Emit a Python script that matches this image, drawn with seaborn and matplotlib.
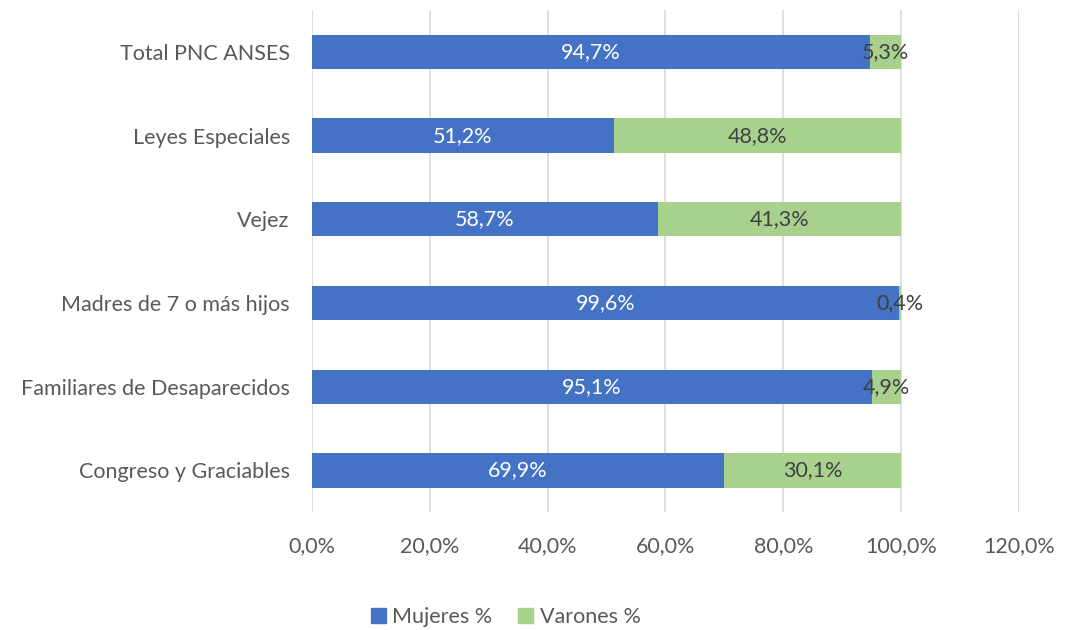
import pandas as pd
import seaborn as sns
import matplotlib.pyplot as plt
from matplotlib.patches import Patch

categorias = [
    "Total PNC ANSES",
    "Leyes Especiales",
    "Vejez",
    "Madres de 7 o más hijos",
    "Familiares de Desaparecidos",
    "Congreso y Graciables",
]
mujeres = [94.7, 51.2, 58.7, 99.6, 95.1, 69.9]
varones = [5.3, 48.8, 41.3, 0.4, 4.9, 30.1]

azul = "#4472C4"
verde = "#A9D18E"
gris = "#595959"
fs = 15.5

sns.set_style("white")
plt.rcParams["font.family"] = ["Lato", "DejaVu Sans"]

df = pd.DataFrame({"categoria": categorias, "mujeres": mujeres, "varones": varones})
df["total"] = df["mujeres"] + df["varones"]

fig = plt.figure(figsize=(10.67, 6.3), dpi=100)
ax = fig.add_axes([0.2924, 0.187, 0.6626, 0.797])

# barra completa en verde, luego mujeres encima en azul
sns.barplot(data=df, x="total", y="categoria", color=verde, width=0.41,
            saturation=1, linewidth=0, ax=ax, zorder=3)
sns.barplot(data=df, x="mujeres", y="categoria", color=azul, width=0.41,
            saturation=1, linewidth=0, ax=ax, zorder=3)


def fmt(v):
    return f"{v:.1f}%".replace(".", ",")


for i, row in df.iterrows():
    ax.text(row["mujeres"] / 2, i, fmt(row["mujeres"]), ha="center", va="center",
            color="white", fontsize=fs, zorder=5)
    ax.text(row["mujeres"] + row["varones"] / 2, i, fmt(row["varones"]),
            ha="center", va="center", color="#404040", fontsize=fs, zorder=5)

ax.set_xlim(0, 120)
ax.set_ylim(5.5, -0.5)
ticks = [0, 20, 40, 60, 80, 100, 120]
ax.set_xticks(ticks)
ax.set_xticklabels([fmt(t) for t in ticks], fontsize=fs, color=gris)
ax.tick_params(axis="y", labelsize=fs, labelcolor=gris, length=0, pad=16)
ax.tick_params(axis="x", length=0, pad=17)
ax.set_xlabel("")
ax.set_ylabel("")
ax.grid(axis="x", color="#D9D9D9", linewidth=1.2, zorder=0)
ax.grid(axis="y", visible=False)
for s in ax.spines.values():
    s.set_visible(False)

handles = [Patch(color=azul, label="Mujeres %"), Patch(color=verde, label="Varones %")]
fig.legend(handles=handles, loc="center", bbox_to_anchor=(0.474, 0.02), ncol=2,
           frameon=False, fontsize=fs, labelcolor=gris, handlelength=0.7,
           handleheight=0.7, handletextpad=0.3, columnspacing=1.2)

fig.savefig("out.png", dpi=100)
